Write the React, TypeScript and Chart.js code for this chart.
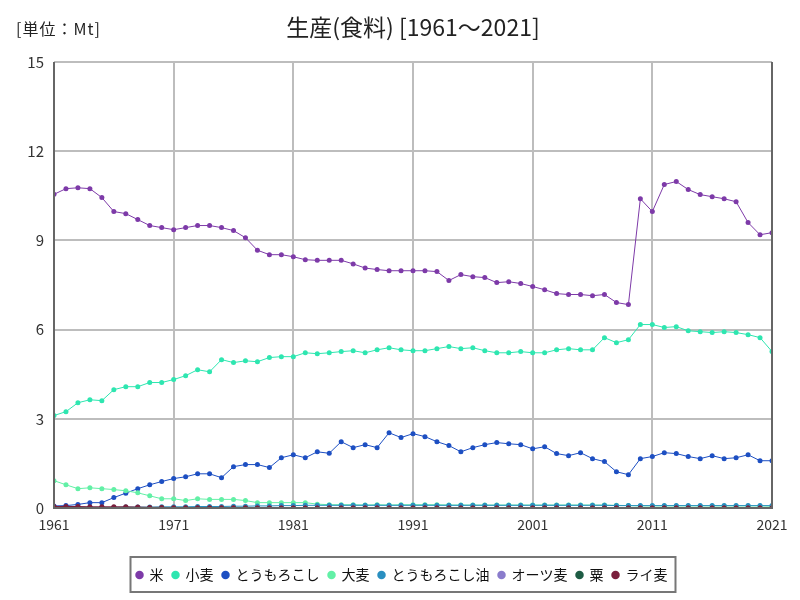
import React, { useEffect, useRef } from "react";
import { Chart, registerables } from "chart.js";

Chart.register(...registerables);

const years: number[] = Array.from({ length: 61 }, (_, i) => 1961 + i);
const xTicks: number[] = [1961, 1971, 1981, 1991, 2001, 2011, 2021];
const yTicks: number[] = [0, 3, 6, 9, 12, 15];

const rice: number[] = [
  10.55, 10.74, 10.77, 10.74, 10.44, 9.97, 9.9, 9.7, 9.5, 9.43,
  9.36, 9.43, 9.5, 9.5, 9.43, 9.33, 9.09, 8.67, 8.52, 8.52,
  8.45, 8.35, 8.33, 8.33, 8.33, 8.21, 8.07, 8.02, 7.98, 7.98,
  7.98, 7.98, 7.95, 7.65, 7.85, 7.78, 7.75, 7.58, 7.61, 7.55,
  7.45, 7.34, 7.21, 7.18, 7.18, 7.14, 7.18, 6.91, 6.84, 10.4,
  9.97, 10.88, 10.98, 10.71, 10.54, 10.47, 10.4, 10.3, 9.6, 9.19, 9.26,
];
const wheat: number[] = [
  3.11, 3.24, 3.54, 3.64, 3.61, 3.98, 4.08, 4.08, 4.22, 4.22,
  4.32, 4.45, 4.65, 4.58, 4.99, 4.89, 4.95, 4.92, 5.06, 5.09,
  5.09, 5.22, 5.19, 5.22, 5.26, 5.29, 5.22, 5.32, 5.39, 5.32,
  5.29, 5.29, 5.36, 5.43, 5.36, 5.39, 5.29, 5.22, 5.22, 5.26,
  5.22, 5.22, 5.32, 5.36, 5.32, 5.32, 5.73, 5.56, 5.66, 6.17,
  6.17, 6.07, 6.1, 5.96, 5.93, 5.9, 5.93, 5.9, 5.83, 5.73, 5.26,
];
const corn: number[] = [
  0.07, 0.08, 0.12, 0.18, 0.18, 0.35, 0.5, 0.65, 0.78, 0.89,
  0.99, 1.05, 1.15, 1.15, 1.02, 1.39, 1.46, 1.46, 1.36, 1.69,
  1.79, 1.69, 1.89, 1.84, 2.23, 2.03, 2.13, 2.03, 2.53, 2.37,
  2.5, 2.4, 2.23, 2.1, 1.89, 2.03, 2.13, 2.2, 2.16, 2.13,
  1.99, 2.06, 1.83, 1.76, 1.86, 1.66, 1.56, 1.22, 1.12, 1.66,
  1.73, 1.86, 1.83, 1.73, 1.66, 1.76, 1.66, 1.69, 1.79, 1.59, 1.59,
];
const barley: number[] = [
  0.92, 0.78, 0.65, 0.68, 0.65, 0.62, 0.58, 0.51, 0.41, 0.31,
  0.31, 0.25, 0.31, 0.29, 0.29, 0.29, 0.25, 0.18, 0.18, 0.18,
  0.18, 0.18, 0.13, 0.11, 0.11, 0.11, 0.1, 0.11, 0.1, 0.11,
  0.11, 0.11, 0.11, 0.1, 0.1, 0.1, 0.1, 0.1, 0.1, 0.1,
  0.1, 0.1, 0.1, 0.1, 0.1, 0.1, 0.1, 0.09, 0.08, 0.07,
  0.07, 0.07, 0.07, 0.07, 0.07, 0.07, 0.07, 0.07, 0.07, 0.07, 0.06,
];
const cornOil: number[] = [
  0.01, 0.01, 0.02, 0.02, 0.02, 0.02, 0.03, 0.03, 0.03, 0.04,
  0.04, 0.04, 0.05, 0.05, 0.05, 0.06, 0.06, 0.07, 0.07, 0.08,
  0.08, 0.09, 0.09, 0.09, 0.09, 0.09, 0.09, 0.09, 0.09, 0.09,
  0.09, 0.09, 0.09, 0.09, 0.09, 0.09, 0.09, 0.09, 0.09, 0.09,
  0.09, 0.09, 0.09, 0.09, 0.09, 0.09, 0.09, 0.08, 0.08, 0.08,
  0.08, 0.08, 0.08, 0.08, 0.08, 0.08, 0.08, 0.08, 0.08, 0.08, 0.08,
];
const oats: number[] = [
  0.03, 0.03, 0.03, 0.02, 0.02, 0.02, 0.02, 0.01, 0.01, 0.01,
  0.01, 0.01, 0.01, 0.01, 0.01, 0.01, 0.01, 0.01, 0.01, 0.01,
  0.01, 0.01, 0.01, 0.01, 0.01, 0.01, 0.01, 0.01, 0.01, 0.01,
  0.0, 0.0, 0.0, 0.0, 0.0, 0.0, 0.0, 0.0, 0.0, 0.0,
  0.0, 0.0, 0.0, 0.0, 0.0, 0.0, 0.0, 0.0, 0.0, 0.0,
  0.0, 0.0, 0.0, 0.0, 0.0, 0.0, 0.0, 0.0, 0.0, 0.0, 0.0,
];
const millet: number[] = [
  0.02, 0.02, 0.02, 0.02, 0.01, 0.01, 0.01, 0.01, 0.01, 0.01,
  0.0, 0.0, 0.0, 0.0, 0.0, 0.0, 0.0, 0.0, 0.0, 0.0,
  0.0, 0.0, 0.0, 0.0, 0.0, 0.0, 0.0, 0.0, 0.0, 0.0,
  0.0, 0.0, 0.0, 0.0, 0.0, 0.0, 0.0, 0.0, 0.0, 0.0,
  0.0, 0.0, 0.0, 0.0, 0.0, 0.0, 0.0, 0.0, 0.0, 0.0,
  0.0, 0.0, 0.0, 0.0, 0.0, 0.0, 0.0, 0.0, 0.0, 0.0, 0.0,
];
const rye: number[] = [
  0.05, 0.05, 0.05, 0.04, 0.04, 0.04, 0.04, 0.03, 0.02, 0.02,
  0.01, 0.01, 0.01, 0.01, 0.01, 0.01, 0.01, 0.0, 0.0, 0.0,
  0.0, 0.0, 0.0, 0.0, 0.0, 0.0, 0.0, 0.0, 0.0, 0.0,
  0.0, 0.0, 0.0, 0.0, 0.0, 0.0, 0.0, 0.0, 0.0, 0.0,
  0.0, 0.0, 0.0, 0.0, 0.0, 0.0, 0.0, 0.0, 0.0, 0.0,
  0.0, 0.0, 0.0, 0.0, 0.0, 0.0, 0.0, 0.0, 0.0, 0.0, 0.0,
];

const seriesNames: string[] = ["米", "小麦", "とうもろこし", "大麦", "とうもろこし油", "オーツ麦", "粟", "ライ麦"];
const seriesColors: string[] = ["#7d3aa8", "#2ee6b0", "#1d4fc2", "#62f0a6", "#2a8fc0", "#8a7ccc", "#1e5c44", "#7a1f3c"];
const seriesValues: number[][] = [rice, wheat, corn, barley, cornOil, oats, millet, rye];

const titleText = "生産(食料) [1961～2021]";
const unitText = "[単位：Mt]";

const FONT = "'Noto Sans CJK JP', 'DejaVu Sans', sans-serif";

export default function App() {
  const ref = useRef<HTMLCanvasElement | null>(null);

  useEffect(() => {
    document.body.style.margin = "0";
    const canvas = ref.current;
    if (!canvas) return;

    const datasets = seriesNames.map((name, i) => ({
      label: name,
      data: years.map((y, j) => ({ x: y, y: seriesValues[i][j] })),
      borderColor: seriesColors[i],
      backgroundColor: seriesColors[i],
      borderWidth: 1,
      pointRadius: 2.5,
      pointHoverRadius: 3,
      pointBorderWidth: 0,
      tension: 0,
    }));
    datasets.reverse();

    const decor = {
      id: "decor",
      afterLayout(chart: any) {
        const lg = chart.legend;
        if (lg) {
          lg.left += 16;
          lg.right += 16;
        }
      },
      afterDraw(chart: any) {
        const ctx = chart.ctx;
        const a = chart.chartArea;
        ctx.save();
        ctx.fillStyle = "#222";
        ctx.textBaseline = "middle";
        ctx.textAlign = "center";
        ctx.font = `23px ${FONT}`;
        ctx.fillText(titleText, (a.left + a.right) / 2, 27);
        ctx.textAlign = "left";
        ctx.font = `16px ${FONT}`;
        try {
          (ctx as any).letterSpacing = "1px";
        } catch (e) {}
        ctx.fillText(unitText, 16, 29);
        try {
          (ctx as any).letterSpacing = "0px";
        } catch (e) {}
        // axis frame
        ctx.strokeStyle = "#666";
        ctx.lineWidth = 2;
        ctx.beginPath();
        ctx.moveTo(a.left, a.top);
        ctx.lineTo(a.left, a.bottom);
        ctx.lineTo(a.right, a.bottom);
        ctx.lineTo(a.right, a.top);
        ctx.stroke();
        // legend border
        const lg = chart.legend;
        if (lg && lg.legendHitBoxes && lg.legendHitBoxes.length) {
          let minX = Infinity, maxX = -Infinity, minY = Infinity, maxY = -Infinity;
          lg.legendHitBoxes.forEach((b: any) => {
            minX = Math.min(minX, b.left);
            maxX = Math.max(maxX, b.left + b.width);
            minY = Math.min(minY, b.top);
            maxY = Math.max(maxY, b.top + b.height);
          });
          ctx.strokeStyle = "#777";
          ctx.lineWidth = 2;
          ctx.strokeRect(minX - 6, minY - 11, maxX - minX + 14, maxY - minY + 21);
        }
        ctx.restore();
      },
    };

    const chart = new Chart(canvas, {
      type: "line",
      data: { datasets: datasets as any },
      options: {
        animation: false,
        responsive: false,
        layout: { padding: { top: 62, right: 28, left: 0, bottom: 8 } },
        plugins: {
          title: { display: false },
          tooltip: { enabled: false },
          legend: {
            position: "bottom",
            reverse: true,
            labels: {
              usePointStyle: true,
              pointStyle: "circle",
              boxWidth: 6,
              boxHeight: 6,
              padding: 9,
              color: "#111",
              font: { size: 14, family: FONT },
            },
          },
        },
        scales: {
          x: {
            type: "linear",
            min: 1961,
            max: 2021,
            afterBuildTicks: (s: any) => {
              s.ticks = xTicks.map((v) => ({ value: v }));
            },
            afterFit: (s: any) => {
              s.height = 51;
            },
            grid: { color: "#bdbdbd", lineWidth: 2, drawTicks: false },
            border: { display: false },
            ticks: {
              color: "#333",
              font: { size: 14, family: FONT },
              padding: 8,
              maxRotation: 0,
              callback: (v: any) => String(v),
            },
          },
          y: {
            min: 0,
            max: 15,
            afterBuildTicks: (s: any) => {
              s.ticks = yTicks.map((v) => ({ value: v }));
            },
            afterFit: (s: any) => {
              s.width = 54;
            },
            grid: { color: "#bdbdbd", lineWidth: 2, drawTicks: false },
            border: { display: false },
            ticks: {
              color: "#333",
              font: { size: 15, family: FONT },
              padding: 10,
            },
          },
        },
      },
      plugins: [decor],
    });

    return () => chart.destroy();
  }, []);

  return (
    <div style={{ width: 800, height: 600, background: "#fff" }}>
      <canvas ref={ref} width={800} height={600} style={{ display: "block" }} />
    </div>
  );
}
